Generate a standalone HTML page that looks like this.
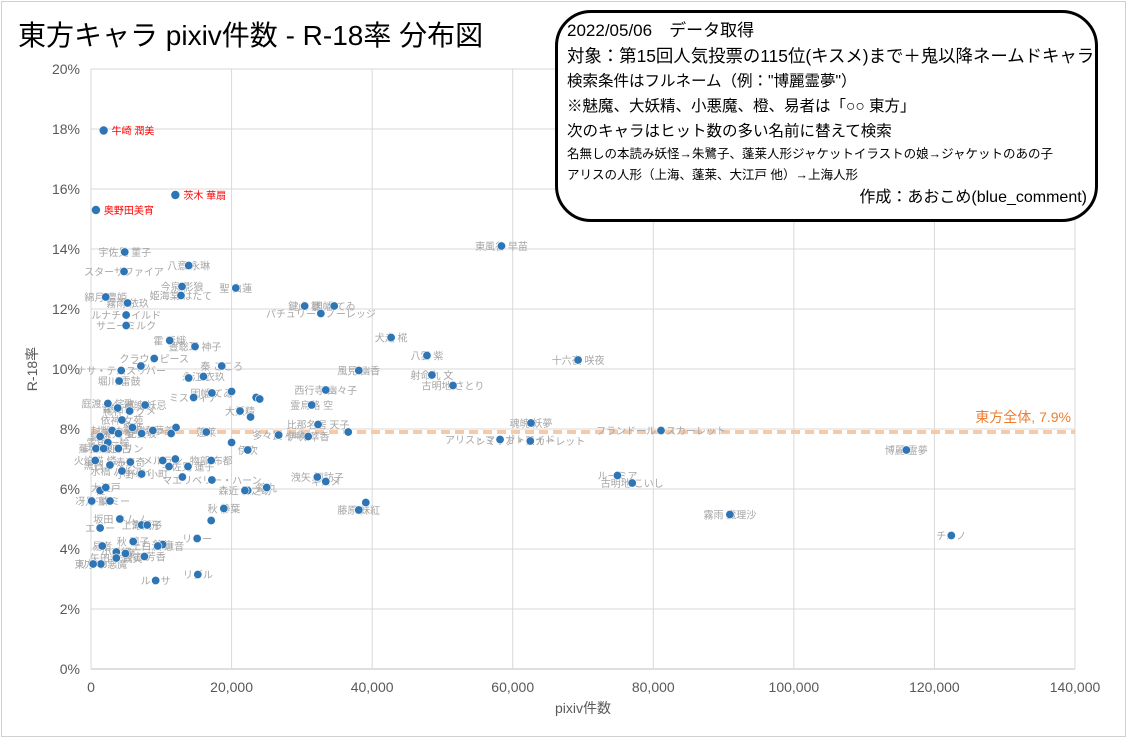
<!DOCTYPE html>
<html><head><meta charset="utf-8">
<style>
body{margin:0;width:1129px;height:741px;background:#fff;overflow:hidden;font-family:"Liberation Sans","Noto Sans CJK JP",sans-serif;}
#wrap{position:absolute;left:0;top:0;width:1129px;height:741px;}
#info{position:absolute;left:555px;top:10px;width:543px;height:212px;border:3px solid #000;border-radius:36px;background:#fff;box-sizing:border-box;padding:6px 0 0 9px;font-family:"Liberation Sans","Noto Sans CJK JP",sans-serif;color:#000;}
#info div{white-space:nowrap;}
</style></head>
<body>
<div id="wrap">
<svg id="chart" width="1129" height="741">
<rect x="1.5" y="1.5" width="1124" height="735" fill="#fff" stroke="#d0d0d0"/>
<text x="18" y="45" font-size="28" fill="#000" font-family="Liberation Sans, Noto Sans CJK JP, sans-serif">東方キャラ  pixiv件数 - R-18率 分布図</text>
<g id="grid"></g><g id="axes"></g><g id="avg"></g><g id="labels"></g><g id="pts"></g>
</svg>
<div id="info">
<div style="font-size:17px;line-height:24px">2022/05/06　データ取得</div>
<div style="font-size:17.4px;line-height:26px">対象：第15回人気投票の115位(キスメ)まで＋鬼以降ネームドキャラ</div>
<div style="font-size:15.5px;line-height:25px">検索条件はフルネーム（例："博麗霊夢"）</div>
<div style="font-size:15.5px;line-height:25px">※魅魔、大妖精、小悪魔、橙、易者は「○○ 東方」</div>
<div style="font-size:15.5px;line-height:25px">次のキャラはヒット数の多い名前に替えて検索</div>
<div style="font-size:12.5px;line-height:21px">名無しの本読み妖怪→朱鷺子、蓬莱人形ジャケットイラストの娘→ジャケットのあの子</div>
<div style="font-size:12.5px;line-height:21px">アリスの人形（上海、蓬莱、大江戸 他）→上海人形</div>
<div style="font-size:16px;line-height:24px;text-align:right;padding-right:8px">作成：あおこめ(blue_comment)</div>
</div>
</div>
<script>
const xTicks=[0,20000,40000,60000,80000,100000,120000,140000];
const xTickLabels=["0","20,000","40,000","60,000","80,000","100,000","120,000","140,000"];
const yTicks=[0,2,4,6,8,10,12,14,16,18,20];
const yTickLabels=["0%","2%","4%","6%","8%","10%","12%","14%","16%","18%","20%"];
const avgRate=7.9;
const highlightNames=["牛崎 潤美","茨木 華扇","奥野田美宵"];
const highlightX=[1800,12000,700];
const highlightY=[17.95,15.8,15.3];
const names=["東風谷 早苗","八意 永琳","宇佐見 菫子","スターサファイア","今泉 影狼","姫海棠 はたて","聖 白蓮","綿月 豊姫","霧雨 依玖","ルナチャイルド","サニーミルク","霍 青娥","豊聡耳 神子","クラウンピース","ニッ","ナサ・テムスリバー","堀川 雷鼓","鍵山 雛","因幡 てゐ","パチュリー・ノーレッジ","犬走 椛","八雲 紫","十六夜 咲夜","風見 幽香","射命丸 文","古明地 さとり","西行寺 幽々子","霊烏路 空","魂魄 妖夢","フランドール・スカーレット","アリス・マーガトロイド","レミリア・スカーレット","比那名居 天子","","伊吹 萃香","多々良 小傘","博麗 霊夢","ルーミア","古明地 こいし","霧雨 魔理沙","チルノ","洩矢 諏訪子","キスメ","","藤原 妹紅","錦丸","","秦 こころ","永江 衣玖","","","因幡 てゐ","ミスティア","","","大妖精","","","","蓬莱","","伊吹","物部 布都","","","宇佐見 蓮子","マエリベリー・ハーン","森近 霖之助","秋 静葉","","リリー","リグル","鈴仙","上白沢 慧音","稀神 サグメ","庭渡 久侘歌","菅牧 典","魂魄 妖忌","依神 女苑","封獣 ぬえ","純狐","レティ","雲居 一輪","寅丸 星","豊姫","比良坂","岡崎 夢美","蘇我 屠自古","ナズーリン","赤蛮奇","今泉","火焔猫 燐","黒谷 ヤマメ","水橋 パルスィ","小野塚 小町","橙","大江戸","冴月 麟","ドレミー","坂田 ネムノ","上海人形","朱鷺子","エリー","小兎姫","魅魔","易者","秋 穣子","矢田寺 成美","宮古 芳香","東方 小悪魔","リリカ","ルナサ","メルラン"];
const counts=[58400,13900,4800,4700,12950,12800,20600,2100,5200,5000,5000,11200,14800,9000,7100,4300,4000,30400,34600,32700,42700,47800,69300,38100,48500,51500,33400,31400,62600,81100,58200,62500,32300,36600,30900,26700,116000,74900,77000,90900,122400,32200,33400,39100,38100,25000,22300,18600,16000,13900,20000,17200,14600,23500,24000,21200,22700,12100,11400,16400,20000,22300,17100,12000,11100,13800,17200,21900,18900,17100,15100,15200,10200,9500,5500,2400,3800,7700,4400,3000,1300,700,2400,3900,5900,7200,8800,2000,3900,5600,1800,600,2700,4400,7200,1300,2100,100,2700,4100,7200,8000,1300,3600,4900,1600,6000,3600,7600,1400,300,9200,10200,13000];
const rates=[14.1,13.45,13.9,13.25,12.75,12.45,12.7,12.4,12.2,11.8,11.45,10.95,10.75,10.35,10.1,9.95,9.6,12.1,12.1,11.85,11.05,10.45,10.3,9.95,9.8,9.45,9.3,8.8,8.2,7.95,7.65,7.6,8.15,7.9,7.75,7.8,7.3,6.45,6.2,5.15,4.45,6.4,6.25,5.55,5.3,6.05,5.95,10.1,9.75,9.7,9.25,9.2,9.05,9.05,9.0,8.6,8.4,8.05,7.85,7.9,7.55,7.3,6.95,7.0,6.75,6.75,6.3,5.95,5.35,4.95,4.35,3.15,4.15,4.1,8.6,8.85,8.7,8.8,8.3,7.95,7.75,7.35,7.55,7.85,8.05,7.85,7.95,7.35,7.35,6.9,7.35,6.95,6.8,6.6,6.5,5.95,6.05,5.6,5.6,5.0,4.8,4.8,4.7,3.9,3.85,4.1,4.25,3.7,3.75,3.5,3.5,2.95,6.95,6.4,7.2];
const NS="http://www.w3.org/2000/svg";
const X0=91,X1=1075,Y0=669,Y1=69;
function sx(v){return X0+(v-0)/140000*(X1-X0);}
function sy(v){return Y0-(v-0)/20*(Y0-Y1);}
function mk(tag,attrs,parent,txt){const e=document.createElementNS(NS,tag);for(const k in attrs)e.setAttribute(k,attrs[k]);if(txt!==undefined)e.textContent=txt;parent.appendChild(e);return e;}
const F="Liberation Sans, Noto Sans CJK JP, sans-serif";
const grid=document.getElementById('grid'),axes=document.getElementById('axes');
yTicks.forEach((t,i)=>{
 const l=mk('line',{x1:X0,x2:X1,y1:sy(t),y2:sy(t),stroke:t===0?'#bfbfbf':'#d9d9d9','stroke-width':1},grid);
 
 
 const tx=mk('text',{x:80,y:sy(t)+5,'text-anchor':'end','font-size':14,fill:'#595959','font-family':F},axes,yTickLabels[i]);
 
 
});
xTicks.forEach((t,i)=>{
 const l=mk('line',{x1:sx(t),x2:sx(t),y1:Y1,y2:Y0,stroke:'#d9d9d9','stroke-width':1},grid);
 
 
 const tx=mk('text',{x:sx(t),y:692,'text-anchor':'middle','font-size':14,fill:'#595959','font-family':F},axes,xTickLabels[i]);
 
 
});
let xt=mk('text',{x:583,y:713,'text-anchor':'middle','font-size':14,fill:'#595959','font-family':F},axes,'pixiv件数');


let yt=mk('text',{x:37,y:369,'text-anchor':'middle','font-size':14,fill:'#595959','font-family':F,transform:'rotate(-90 37 369)'},axes,'R-18率');


const avg=document.getElementById('avg');
let al=mk('line',{x1:X0,x2:X1,y1:sy(avgRate),y2:sy(avgRate),stroke:'#f6c9a8','stroke-width':4,'stroke-dasharray':'9,5'},avg);


let alt=mk('text',{x:1071,y:sy(avgRate)-10,'text-anchor':'end','font-size':14,fill:'#ed7d31','font-family':F},avg,'東方全体, '+avgRate+'%');


const labels=document.getElementById('labels'),pts=document.getElementById('pts');
counts.forEach((c,i)=>{
 if(names[i]){
  const t=mk('text',{x:sx(c),y:sy(rates[i])+4,'text-anchor':'middle','font-size':10,fill:'#a6a6a6','font-family':F},labels,names[i]);
  
  
 }
 const p=mk('circle',{cx:sx(c),cy:sy(rates[i]),r:4.2,fill:'#2e75b6',stroke:'#fff','stroke-width':0.6},pts);
 
 
});
highlightX.forEach((c,i)=>{
 const p=mk('circle',{cx:sx(c),cy:sy(highlightY[i]),r:4.2,fill:'#2e75b6'},pts);
 
 
 const t=mk('text',{x:sx(c)+8,y:sy(highlightY[i])+4,'font-size':10,fill:'#ff0000','font-family':F},labels,highlightNames[i]);
 
 
});
</script>
</body></html>
